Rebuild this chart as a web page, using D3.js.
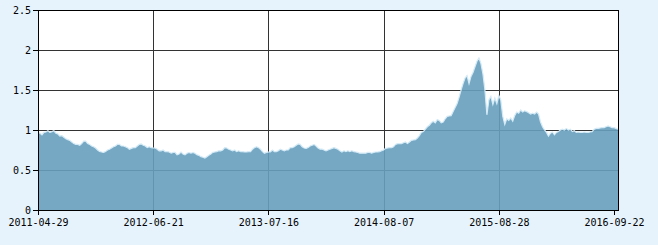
<!DOCTYPE html>
<html>
<head>
<meta charset="utf-8">
<script src="https://cdn.jsdelivr.net/npm/d3@7"></script>
<style>
  html, body { margin: 0; padding: 0; background: #e6f3fc; }
  svg { display: block; }
  text { font-family: "DejaVu Sans Mono", "Liberation Mono", monospace; font-size: 10px; fill: #000; }
</style>
</head>
<body>
<svg id="chart" width="658" height="245"></svg>
<script>
const values = [
  0.975,0.96,0.94,0.97,0.975,0.99,0.97,0.98,0.99,0.96,0.95,0.925,0.93,0.91,0.89,0.88,0.87,0.85,0.83,0.82,
  0.82,0.81,0.83,0.86,0.86,0.83,0.82,0.80,0.79,0.775,0.75,0.733,0.725,0.72,0.73,0.75,0.76,0.775,0.79,0.80,
  0.82,0.82,0.80,0.80,0.79,0.78,0.76,0.77,0.78,0.78,0.80,0.82,0.825,0.81,0.80,0.78,0.79,0.78,0.775,0.775,
  0.76,0.74,0.74,0.75,0.73,0.73,0.725,0.71,0.72,0.72,0.69,0.70,0.725,0.70,0.69,0.71,0.72,0.71,0.72,0.71,
  0.69,0.683,0.667,0.66,0.65,0.667,0.683,0.70,0.72,0.725,0.73,0.74,0.74,0.75,0.78,0.775,0.76,0.75,0.74,0.75,
  0.73,0.74,0.73,0.73,0.725,0.725,0.73,0.73,0.76,0.78,0.79,0.78,0.76,0.73,0.71,0.72,0.725,0.725,0.75,0.73,
  0.73,0.74,0.76,0.75,0.74,0.75,0.75,0.78,0.78,0.79,0.81,0.825,0.82,0.79,0.775,0.77,0.78,0.80,0.81,0.82,
  0.80,0.775,0.76,0.76,0.75,0.74,0.75,0.76,0.77,0.78,0.77,0.76,0.74,0.725,0.74,0.73,0.74,0.73,0.74,0.73,
  0.725,0.72,0.71,0.71,0.71,0.71,0.72,0.72,0.71,0.72,0.725,0.725,0.73,0.74,0.75,0.77,0.775,0.78,0.78,0.79,
  0.82,0.83,0.83,0.83,0.84,0.85,0.83,0.85,0.87,0.875,0.88,0.90,0.93,0.97,0.98,1.01,1.04,1.06,1.09,1.11,
  1.09,1.13,1.12,1.09,1.10,1.14,1.17,1.175,1.18,1.23,1.28,1.33,1.41,1.50,1.58,1.65,1.68,1.58,1.67,1.72,
  1.79,1.86,1.90,1.83,1.70,1.50,1.19,1.375,1.42,1.32,1.40,1.33,1.43,1.375,1.17,1.07,1.14,1.12,1.15,1.11,
  1.18,1.225,1.21,1.25,1.225,1.24,1.23,1.215,1.20,1.21,1.20,1.225,1.20,1.10,1.04,1.00,0.97,0.925,0.96,0.975,
  0.94,0.97,0.98,1.00,1.01,1.00,1.02,1.00,1.01,0.98,0.99,0.97,0.975,0.97,0.97,0.975,0.97,0.97,0.975,0.98,
  1.01,1.02,1.02,1.025,1.03,1.03,1.04,1.05,1.04,1.03,1.03,1.02,1.01
];
const tickIndex = [0, 58, 116, 174, 232, 290];
const tickLabels = ["2011-04-29","2012-06-21","2013-07-16","2014-08-07","2015-08-28","2016-09-22"];
const yTicks = [0, 0.5, 1, 1.5, 2, 2.5];

const svg = d3.select("#chart");
const m = {left: 38, right: 40, top: 10, bottom: 35};
const W = 658, H = 245;
const iw = W - m.left - m.right, ih = H - m.top - m.bottom;

const x = d3.scaleLinear().domain([0, values.length - 1]).range([m.left, m.left + iw]);
const y = d3.scaleLinear().domain([0, 2.5]).range([m.top + ih, m.top]);

svg.append("rect").attr("x", m.left).attr("y", m.top).attr("width", iw).attr("height", ih).attr("fill", "#fff");

// grid (inner lines only)
const g = svg.append("g").attr("shape-rendering", "crispEdges");
g.selectAll("line.h").data(yTicks.slice(1, -1)).join("line")
  .attr("x1", m.left).attr("x2", m.left + iw)
  .attr("y1", d => Math.round(y(d)) + 0.5).attr("y2", d => Math.round(y(d)) + 0.5)
  .attr("stroke", "#333").attr("stroke-width", 1);
g.selectAll("line.v").data(tickIndex.slice(1, -1)).join("line")
  .attr("x1", d => Math.round(x(d)) + 0.5).attr("x2", d => Math.round(x(d)) + 0.5)
  .attr("y1", m.top).attr("y2", m.top + ih)
  .attr("stroke", "#333").attr("stroke-width", 1);

// area
const area = d3.area().x((d, i) => x(i)).y0(y(0)).y1(d => y(d)).curve(d3.curveLinear);
const line = d3.line().x((d, i) => x(i)).y(d => y(d));
svg.append("path").datum(values).attr("d", area).attr("fill", "#679fbe").attr("fill-opacity", 0.9);
svg.append("path").datum(values).attr("d", line).attr("fill", "none").attr("stroke", "#d4ebf7").attr("stroke-width", 1.2);

// plot border (top, right)
svg.append("path").attr("shape-rendering", "crispEdges")
  .attr("d", `M${m.left},${m.top + 0.5}H${m.left + iw + 0.5}V${m.top + ih}`)
  .attr("fill", "none").attr("stroke", "#000");

// axes
const yAxis = d3.axisLeft(y).tickValues(yTicks).tickSize(5).tickPadding(2).tickFormat(d => String(d));
const ya = svg.append("g").attr("transform", `translate(${m.left},0)`).call(yAxis);
const xAxis = d3.axisBottom(x).tickValues(tickIndex).tickSize(5).tickPadding(4)
  .tickFormat((d, i) => tickLabels[i]);
const xa = svg.append("g").attr("transform", `translate(0,${m.top + ih})`).call(xAxis);
[ya, xa].forEach(a => {
  a.attr("shape-rendering", "crispEdges");
  a.selectAll("path.domain").attr("stroke", "#000");
  a.selectAll(".tick line").attr("stroke", "#000");
  a.selectAll("text").attr("font-family", '"DejaVu Sans Mono", monospace').attr("font-size", 10).attr("fill", "#000");
});
ya.select("path.domain").attr("d", `M0.5,${m.top}V${m.top + ih + 0.5}`);
xa.select("path.domain").attr("d", `M${m.left},0.5H${m.left + iw + 1}`);
</script>
</body>
</html>
